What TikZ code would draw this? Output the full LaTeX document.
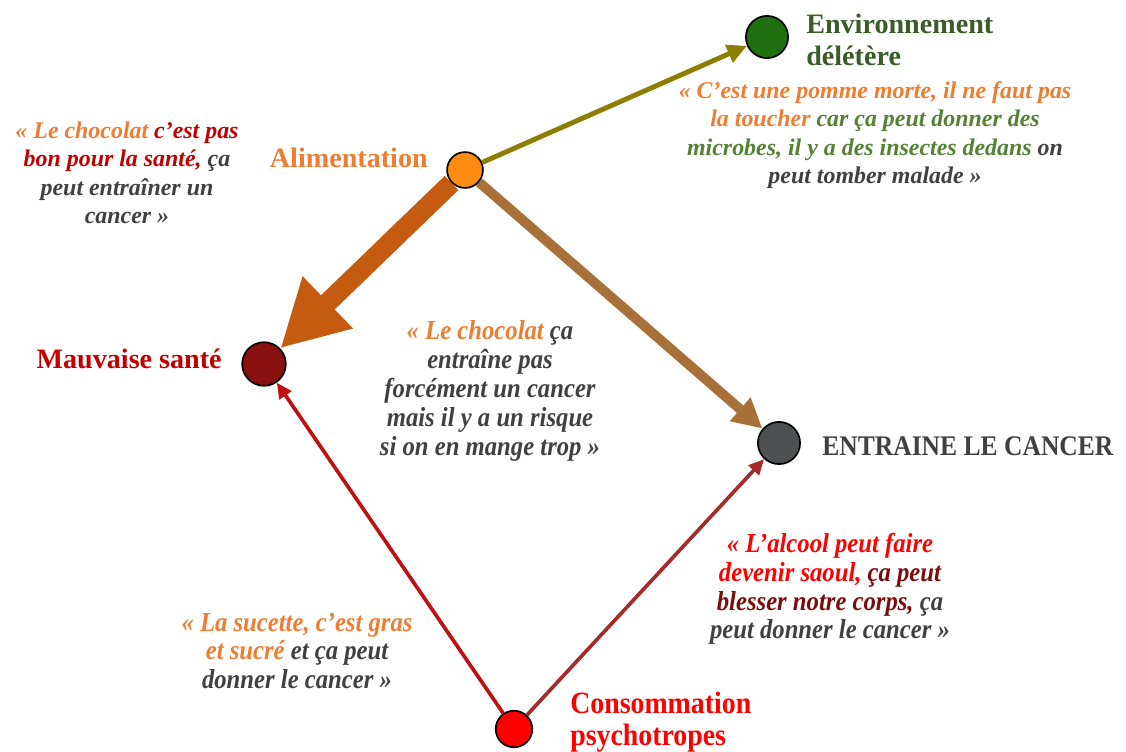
\documentclass[tikz,border=0pt]{standalone}
\usepackage{fontspec}
\setmainfont{Liberation Serif}
\newfontfamily\narrowserif{Liberation Serif}[FakeStretch=0.9]
\usetikzlibrary{arrows.meta}

\definecolor{txtorange}{HTML}{ED7D31}
\definecolor{txtgray}{HTML}{404040}
\definecolor{txtdarkred}{HTML}{C00000}
\definecolor{txtgreen}{HTML}{548235}
\definecolor{txtdarkgreen}{HTML}{3A5C28}
\definecolor{txtred}{HTML}{FF0000}
\definecolor{txtmaroon}{HTML}{7A0C0C}
\definecolor{dotgreen}{HTML}{1E700E}
\definecolor{dotorange}{HTML}{FF8C10}
\definecolor{dotdarkred}{HTML}{8A1010}
\definecolor{dotgray}{HTML}{4D5151}
\definecolor{dotred}{HTML}{FF0000}
\definecolor{arrolive}{HTML}{8C7E00}
\definecolor{arrrust}{HTML}{C55A11}
\definecolor{arrbrown}{HTML}{A8713A}
\definecolor{arrred}{HTML}{C01010}
\definecolor{arrbrick}{HTML}{A52A2A}

\newcommand{\qor}[1]{\textcolor{txtorange}{#1}}
\newcommand{\qdr}[1]{\textcolor{txtdarkred}{#1}}
\newcommand{\qgr}[1]{\textcolor{txtgreen}{#1}}
\newcommand{\qrd}[1]{\textcolor{txtred}{#1}}
\newcommand{\qmr}[1]{\textcolor{txtmaroon}{#1}}

\begin{document}
\begin{tikzpicture}[x=0.025cm, y=-0.025cm]

% Styles
\tikzset{
  dot/.style={circle, draw=black, line width=1.2pt, inner sep=0pt, minimum size=#1},
  tag/.style={inner sep=0pt, font=\bfseries\fontsize{20}{22.7}\selectfont},
  saying/.style={inner sep=0pt, align=center, text=txtgray,
    font=\bfseries\itshape\fontsize{17}{20.3}\selectfont},
  narrow/.style={inner sep=0pt, align=center, text=txtgray,
    font=\narrowserif\bfseries\itshape\fontsize{19.5}{20.5}\selectfont},
  link/.style={line width=2.6pt, -{Triangle[length=11pt,width=10pt]}}
}

\useasboundingbox (0,0) rectangle (1126,751);

% Dots
\node[dot=30pt, fill=dotgreen]   (env)  at (767,37)  {};
\node[dot=25.5pt, fill=dotorange] (ali)  at (465,170) {};
\node[dot=31pt, fill=dotdarkred] (mauv) at (264,364) {};
\node[dot=30pt, fill=dotgray]    (canc) at (779,443) {};
\node[dot=26pt, fill=dotred]     (cons) at (514,729) {};

% Arrows
\draw[line width=3.5pt, arrolive, -{Triangle[length=14pt,width=13pt]}] (ali) -- (env);
\draw[line width=14pt, arrrust, -{Triangle[length=47pt,width=48pt]}] (ali) -- (mauv);
\draw[line width=7pt, arrbrown, -{Triangle[length=21pt,width=21pt]}] (ali) -- (canc);
\draw[link, arrred] (cons) -- (mauv);
\draw[link, arrbrick] (cons) -- (canc);

% Labels
\node[tag, text=txtdarkgreen, anchor=west, align=left] (envtag) at (806,40)
  {Environnement\\délétère};
\node[tag, text=txtorange, anchor=east] (alitag) at (428,158) {Alimentation};
\node[tag, text=txtdarkred, anchor=east] (mauvtag) at (222,359) {Mauvaise santé};
\node[tag, text=txtgray, anchor=west, font=\narrowserif\bfseries\fontsize{20.2}{22}\selectfont]
  (canctag) at (822,446) {ENTRAINE LE CANCER};
\node[tag, text=txtred, anchor=west, align=left, font=\narrowserif\bfseries\fontsize{22}{22.7}\selectfont]
  (constag) at (570,722) {Consommation\\psychotropes};

% Quotes
\node[saying] (envquote) at (875,135)
  {\qor{« C’est une pomme morte, il ne faut pas}\\
   \qor{la toucher} \qgr{car ça peut donner des}\\
   \qgr{microbes, il y a des insectes dedans} on\\
   peut tomber malade »};
\node[saying] (aliquote) at (127,173)
  {\qor{« Le chocolat} \qdr{c’est pas}\\
   \qdr{bon pour la santé,} ça\\
   peut entraîner un\\
   cancer »};
\node[narrow] (midquote) at (490,391)
  {\qor{« Le chocolat} ça\\
   entraîne pas\\
   forcément un cancer\\
   mais il y a un risque\\
   si on en mange trop »};
\node[narrow] (alcquote) at (830,589)
  {\qrd{« L’alcool peut faire}\\
   \qrd{devenir saoul,} \qmr{ça peut}\\
   \qmr{blesser notre corps,} ça\\
   peut donner le cancer »};
\node[narrow] (sucquote) at (297,651)
  {\qor{« La sucette, c’est gras}\\
   \qor{et sucré} et ça peut\\
   donner le cancer »};

\end{tikzpicture}
\end{document}
